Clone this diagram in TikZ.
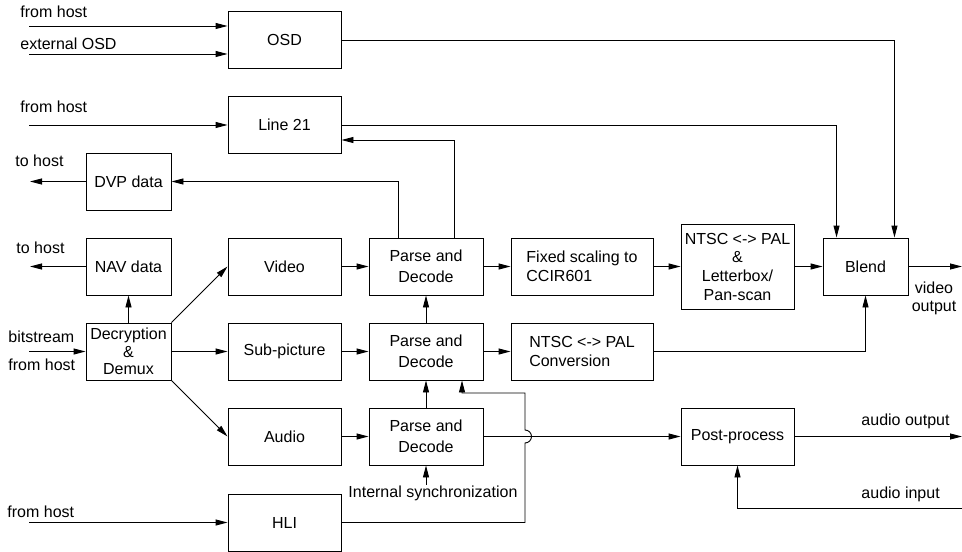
\documentclass[tikz,border=0pt]{standalone}
\usepackage{fontspec}
\setmainfont{Liberation Sans}
\usetikzlibrary{arrows.meta}

\begin{document}
\begin{tikzpicture}[x=0.75pt, y=-0.75pt, line width=0.7pt,
    >={Triangle[length=9pt,width=4.5pt]},
    every node/.style={font=\fontsize{12}{14}\selectfont},
    block/.style={draw, inner sep=0pt, align=center, minimum width=84.75pt, minimum height=42.75pt},
    narrowblock/.style={block, minimum width=63.75pt},
    wideblock/.style={block, minimum width=106.5pt, align=left},
    parseblock/.style={block, minimum width=85.5pt, font=\fontsize{12}{16}\selectfont},
    lbl/.style={inner sep=0pt, anchor=base west}]
    \useasboundingbox (0,0) rectangle (962,552);

    % Host side blocks
    \node[block] (osd) at (284.5,40) {OSD};
    \node[block] (line21) at (284.5,125) {Line 21};
    \node[narrowblock] (dvp) at (128.5,181.5) {DVP data};
    \node[narrowblock] (nav) at (128.5,266.5) {NAV data};
    \node[narrowblock, font=\fontsize{12}{13}\selectfont] (demux) at (128.5,351.5) {Decryption\\\&\\Demux};

    % Streams
    \node[block] (video) at (284.5,266.5) {Video};
    \node[block] (subpic) at (284.5,351.5) {Sub-picture};
    \node[block] (audio) at (284.5,436.5) {Audio};
    \node[block] (hli) at (284.5,522.5) {HLI};

    % Decoders
    \node[parseblock] (parseV) at (426,266.5) {Parse and\\Decode};
    \node[parseblock] (parseS) at (426,351.5) {Parse and\\Decode};
    \node[parseblock] (parseA) at (426,436.5) {Parse and\\Decode};

    % Output stages
    \node[wideblock] (scale) at (582,266.5) {Fixed scaling to\\CCIR601};
    \node[block, minimum height=63.75pt] (ntsc) at (737.5,266.5) {NTSC <-> PAL\\\&\\Letterbox/\\Pan-scan};
    \node[wideblock] (conv) at (582,351.5) {NTSC <-> PAL\\Conversion};
    \node[narrowblock] (blend) at (865.5,266.5) {Blend};
    \node[block] (post) at (737.5,436.5) {Post-process};

    % Labels
    \node[lbl] (fromhostA) at (20,18) {from host};
    \node[lbl] (extosd) at (20,50) {external OSD};
    \node[lbl] (fromhostB) at (20,113) {from host};
    \node[lbl] (tohostA) at (15,167) {to host};
    \node[lbl] (tohostB) at (16,253) {to host};
    \node[lbl] (bitstr) at (8,342) {bitstream};
    \node[lbl] (fromhostC) at (8,370) {from host};
    \node[lbl] (fromhostD) at (7,517) {from host};
    \node[lbl] (sync) at (348,497) {Internal synchronization};
    \node[lbl] (audout) at (861,425) {audio output};
    \node[lbl] (audin) at (861,498) {audio input};
    \node[inner sep=0pt, align=center, anchor=north] (vidout) at (934,281) {video\\output};

    % Free ends
    \coordinate (srcA) at (29,26);
    \coordinate (srcB) at (29,54);
    \coordinate (srcC) at (29,125);
    \coordinate (dstA) at (30,181.5);
    \coordinate (dstB) at (30,266.5);
    \coordinate (srcD) at (29,351.5);
    \coordinate (srcE) at (29,522.5);
    \coordinate (vidend) at (962,266.5);
    \coordinate (audend) at (962,436.5);
    \coordinate (audsrc) at (962,508);
    \coordinate (hlitop) at (525,393);

    % Inputs from host
    \draw[->] (srcA) -- (srcA -| osd.west);
    \draw[->] (srcB) -- (srcB -| osd.west);
    \draw[->] (srcC) -- (line21.west);
    \draw[->] (srcD) -- (demux.west);
    \draw[->] (srcE) -- (hli.west);
    \draw[->] (dvp.west) -- (dstA);
    \draw[->] (nav.west) -- (dstB);

    % Demux
    \draw[->] (demux.north) -- (nav.south);
    \draw[->] (demux.north east) -- (video.west);
    \draw[->] (demux.east) -- (subpic.west);
    \draw[->] (demux.south east) -- (audio.west);

    % Decoding chain
    \draw[->] (video.east) -- (parseV.west);
    \draw[->] (subpic.east) -- (parseS.west);
    \draw[->] (audio.east) -- (parseA.west);
    \draw[->] (parseS.north) -- (parseV.south);
    \draw[->] (parseA.north) -- (parseS.south);
    \draw[->] (parseA.south |- sync.north) -- (parseA.south);
    \draw[->] ([xshift=-21pt]parseV.north) |- (dvp.east);
    \draw[->] ([xshift=21pt]parseV.north) |- ([yshift=-11.25pt]line21.east);
    \draw[->] (hli.east) -- (hli.east -| hlitop) -- ([yshift=-4.875pt]hlitop |- parseA.east)
        arc[start angle=-90, end angle=90, radius=4.875pt] -- (hlitop) -| ([xshift=27pt]parseS.south);

    % Video out
    \draw[->] (parseV.east) -- (scale.west);
    \draw[->] (scale.east) -- (ntsc.west);
    \draw[->] (ntsc.east) -- (blend.west);
    \draw[->] (blend.east) -- (vidend);
    \draw[->] (parseS.east) -- (conv.west);
    \draw[->] (conv.east) -| (blend.south);
    \draw[->] (osd.east) -| ([xshift=-10.5pt]blend.north east);
    \draw[->] (line21.east) -| ([xshift=10.5pt]blend.north west);

    % Audio out
    \draw[->] (parseA.east) -- (post.west);
    \draw[->] (post.east) -- (audend);
    \draw[->] (audsrc) -| (post.south);
\end{tikzpicture}
\end{document}
